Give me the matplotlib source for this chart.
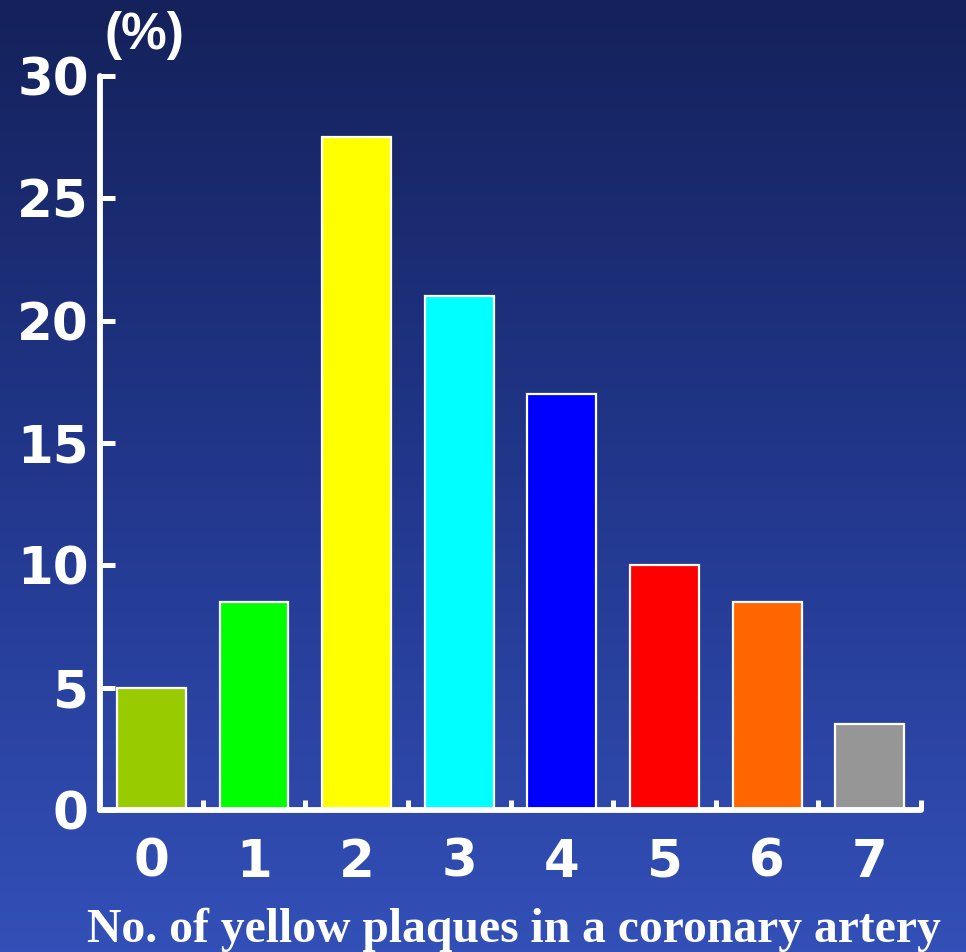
import numpy as np
import matplotlib
matplotlib.use("Agg")
import matplotlib.pyplot as plt
from matplotlib.colors import LinearSegmentedColormap

# plaque counts per artery and share of arteries (%)
counts = [0, 1, 2, 3, 4, 5, 6, 7]
percent = [5.0, 8.5, 27.5, 21.0, 17.0, 10.0, 8.5, 3.5]
bar_colors = ["#99cc00", "#00ff00", "#ffff00", "#00ffff",
              "#0000ff", "#ff0000", "#ff6600", "#969696"]
y_ticks = [0, 5, 10, 15, 20, 25, 30]

fig = plt.figure(figsize=(9.66, 9.52), dpi=100)

# background: dark navy at the top fading to blue at the bottom
bg = fig.add_axes([0, 0, 1, 1], zorder=-1)
grad = LinearSegmentedColormap.from_list("bg", ["#14215a", "#22378c", "#3350b8"])
bg.imshow(np.linspace(0, 1, 256).reshape(-1, 1), aspect="auto", cmap=grad,
          extent=[0, 1, 0, 1])
bg.axis("off")

ax = fig.add_axes([0.1035, 0.149, 0.850, 0.7715])
ax.set_facecolor("none")
ax.bar(counts, percent, width=0.67, color=bar_colors,
       edgecolor="white", linewidth=1.6, zorder=2)

ax.set_xlim(-0.5, 7.5)
ax.set_ylim(0, 30)

for side in ["top", "right"]:
    ax.spines[side].set_visible(False)
for side in ["left", "bottom"]:
    ax.spines[side].set_color("white")
    ax.spines[side].set_linewidth(4.2)
    ax.spines[side].set_capstyle("round")
    ax.spines[side].set_zorder(3)

ax.set_yticks(y_ticks)
ax.set_yticklabels([str(v) for v in y_ticks])
ax.tick_params(axis="y", direction="in", length=11, width=3.6, color="white",
               labelcolor="white", labelsize=37, pad=8)

ax.set_xticks(counts)
ax.set_xticklabels([str(c) for c in counts])
ax.set_xticks(np.arange(0.5, 8, 1), minor=True)
ax.tick_params(axis="x", which="major", length=0, labelcolor="white",
               labelsize=37, pad=20)
ax.tick_params(axis="x", which="minor", direction="in", length=7, width=3.6,
               color="white")
for lbl in ax.get_xticklabels() + ax.get_yticklabels():
    lbl.set_family("DejaVu Sans")
    lbl.set_fontweight("bold")

fig.text(0.108, 0.963, "(%)", color="white", fontsize=37, fontweight="bold",
         family="Liberation Sans", ha="left", va="center")
fig.text(0.532, 0.011, "No. of yellow plaques in a coronary artery", color="white",
         fontsize=34.3, fontweight="bold", family="Liberation Serif",
         ha="center", va="baseline")

fig.savefig("out.png", dpi=100)
